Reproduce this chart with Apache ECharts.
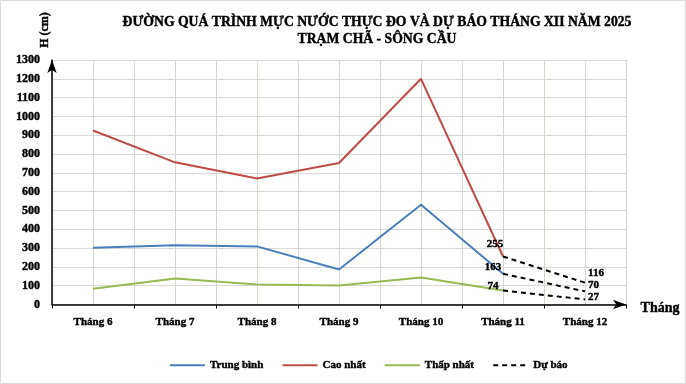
<!DOCTYPE html>
<html><head><meta charset="utf-8">
<script src="https://cdn.jsdelivr.net/npm/echarts@6/dist/echarts.min.js"></script>
<style>html,body{margin:0;padding:0;background:#fff}#c{width:686px;height:384px}</style>
</head><body><div id="c"></div>
<script>
const categories = ['Tháng 6','Tháng 7','Tháng 8','Tháng 9','Tháng 10','Tháng 11','Tháng 12'];
const avgValues  = [302, 315, 309, 186, 530, 163, null];
const highValues = [925, 756, 670, 752, 1200, 255, null];
const lowValues  = [84, 138, 106, 101, 143, 74, null];
const fcHigh = [null, null, null, null, null, 255, 116];
const fcAvg  = [null, null, null, null, null, 163, 70];
const fcLow  = [null, null, null, null, null, 74, 27];
const yTicks = [0,100,200,300,400,500,600,700,800,900,1000,1100,1200,1300];

const serif = '"Liberation Serif","Times New Roman",serif';
const bold = { fontFamily: serif, fontWeight: 'bold', color: '#000', textBorderColor: '#000', textBorderWidth: 0.4 };
const chart = echarts.init(document.getElementById('c'));

function fcData(arr, offL, offR) {
  return arr.map((v, i) => {
    if (v === null) return null;
    const first = i === 5;
    return {
      value: v,
      label: first
        ? { show: true, position: 'top', offset: offL }
        : { show: true, position: 'right', offset: offR }
    };
  });
}
const fcStyle = { color: '#000', width: 2, type: [5, 4] };
const fcLabel = Object.assign({ fontSize: 11, distance: 3 }, bold);

chart.setOption({
  animation: false,
  backgroundColor: '#fff',
  title: {
    text: 'ĐƯỜNG QUÁ TRÌNH MỰC NƯỚC THỰC ĐO VÀ DỰ BÁO THÁNG XII NĂM 2025\nTRẠM CHÃ - SÔNG CẦU',
    left: 372, top: 9, textAlign: 'center',
    textStyle: Object.assign({ fontSize: 13.7, lineHeight: 17 }, bold)
  },
  graphic: [
    { type: 'rect', shape: { x: 0.5, y: 0.5, width: 685, height: 383 }, style: { fill: 'none', stroke: '#d9d9d9', lineWidth: 1 }, silent: true, z: -1 },
    { type: 'text', x: 45, y: 30, rotation: Math.PI / 2,
      style: { text: 'H (cm)', fontFamily: serif, fontWeight: 'bold', fontSize: 12, fill: '#000', stroke: '#000', lineWidth: 0.4, align: 'center', verticalAlign: 'middle' } },
    { type: 'text', x: 660, y: 308,
      style: { text: 'Tháng', fontFamily: serif, fontWeight: 'bold', fontSize: 14, fill: '#000', stroke: '#000', lineWidth: 0.4, align: 'center', verticalAlign: 'middle' } }
  ],
  legend: {
    bottom: 8, left: 164, itemGap: 18, itemWidth: 35, itemHeight: 10,
    itemStyle: { opacity: 0 },
    textStyle: Object.assign({ fontSize: 11 }, bold),
    data: ['Trung bình', 'Cao nhất', 'Thấp nhất', 'Dự báo']
  },
  grid: { left: 52, right: 60, top: 60, bottom: 79.5, containLabel: false },
  xAxis: [{
    type: 'category', data: categories, boundaryGap: true,
    axisLine: { lineStyle: { color: '#000', width: 1.5 }, symbol: ['none', 'arrow'], symbolSize: [7, 13], symbolOffset: [0, 0] },
    axisTick: { show: true, length: 4, lineStyle: { color: '#000' } },
    axisLabel: Object.assign({ fontSize: 11, margin: 12 }, bold),
    splitLine: { show: false }, z: 5
  }, {
    type: 'value', min: 0, max: 7, interval: 0.5, position: 'bottom',
    axisLine: { show: false }, axisTick: { show: false }, axisLabel: { show: false },
    splitLine: { show: true, lineStyle: { color: '#d8d6cc', width: 1 } }
  }],
  yAxis: {
    type: 'value', min: 0, max: 1300, interval: 100,
    axisLine: { show: true, lineStyle: { color: '#000', width: 1.5 }, symbol: ['none', 'arrow'], symbolSize: [7, 13], symbolOffset: [0, 0] },
    axisTick: { show: false },
    axisLabel: Object.assign({ fontSize: 12, margin: 12,
      formatter: v => yTicks.includes(v) ? String(v) : '' }, bold),
    splitLine: { show: true, lineStyle: { color: '#d9d9d9', width: 1 } }
  },
  series: [
    { name: 'Trung bình', type: 'line', data: avgValues, symbol: 'none', color: '#4a7ebb', lineStyle: { width: 2, color: '#4a7ebb' }, z: 3 },
    { name: 'Cao nhất', type: 'line', data: highValues, symbol: 'none', color: '#be4b48', lineStyle: { width: 2, color: '#be4b48' }, z: 3 },
    { name: 'Thấp nhất', type: 'line', data: lowValues, symbol: 'none', color: '#98b954', lineStyle: { width: 2, color: '#98b954' }, z: 3 },
    { name: 'Dự báo', type: 'line', data: fcData(fcHigh, [-8, -4], [0, -10]), symbol: 'circle', symbolSize: 0, showSymbol: true, color: '#000', lineStyle: fcStyle, label: fcLabel, z: 4 },
    { name: 'Dự báo', type: 'line', data: fcData(fcAvg, [-10, 2], [0, -6]), symbol: 'circle', symbolSize: 0, showSymbol: true, color: '#000', lineStyle: fcStyle, label: fcLabel, z: 4 },
    { name: 'Dự báo', type: 'line', data: fcData(fcLow, [-10, 4], [0, -2]), symbol: 'circle', symbolSize: 0, showSymbol: true, color: '#000', lineStyle: fcStyle, label: fcLabel, z: 4 }
  ]
});
</script>
</body></html>
